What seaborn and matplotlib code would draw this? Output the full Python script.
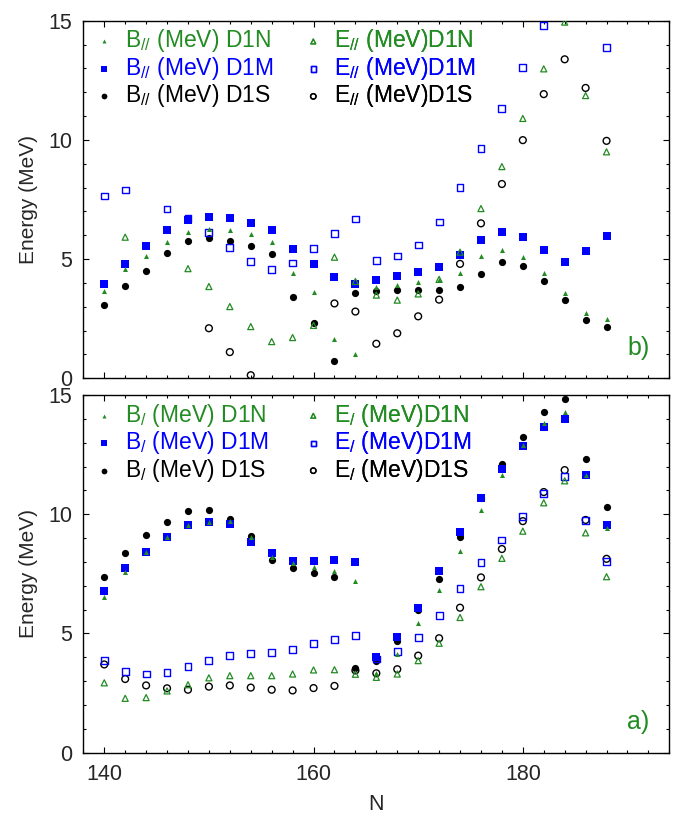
import numpy as np
import pandas as pd
import matplotlib
matplotlib.use("Agg")
import matplotlib.pyplot as plt
import seaborn as sns
from matplotlib.ticker import MultipleLocator

nan = np.nan
N = list(range(140, 189, 2))

# ---- panel b) : parallel ----
B_par_D1N = [3.66, 4.60, 5.15, 5.72, 6.15, 6.28, 6.24, 6.04, 5.72, 4.42, 3.62, 1.64, 1.02,
             3.85, 3.90, 4.03, 4.12, 4.41, 5.12, 5.40, 5.09, 4.43, 3.58, 2.76, 2.49]
B_par_D1M = [3.94, 4.78, 5.55, 6.21, 6.63, 6.76, 6.71, 6.50, 6.21, 5.41, 4.78, 4.24, 3.95,
             4.12, 4.28, 4.46, 4.66, 5.16, 5.80, 6.13, 5.92, 5.38, 4.87, 5.34, 5.96]
B_par_D1S = [3.08, 3.87, 4.50, 5.24, 5.76, 5.89, 5.78, 5.55, 5.20, 3.41, 2.31, 0.71, 3.58,
             3.67, 3.69, 3.70, 3.70, 3.82, 4.36, 4.88, 4.71, 4.08, 3.29, 2.43, 2.15]
E_par_D1N = [nan, 5.92, nan, nan, 4.60, 3.85, 3.01, 2.17, 1.54, 1.71, 2.22, 5.08, 4.06,
             3.49, 3.28, 3.54, 4.15, 5.29, 7.12, 8.88, 10.90, 12.98, 14.94, 11.86, 9.50]
E_par_D1M = [7.65, 7.90, nan, 7.10, 6.69, 6.13, 5.50, 4.90, 4.57, 4.84, 5.43, 6.08, 6.68,
             4.95, 5.13, 5.59, 6.56, 8.01, 9.65, 11.31, 13.05, 14.81, nan, nan, 13.89]
E_par_D1S = [nan, nan, nan, nan, nan, 2.10, 1.10, 0.13, nan, nan, nan, 3.14, 2.80,
             1.45, 1.89, 2.60, 3.30, 4.80, 6.50, 8.15, 9.99, 11.92, 13.38, 12.18, 9.96]

# ---- panel a) : perpendicular ----
B_perp_D1N = [6.53, 7.56, 8.40, 9.06, 9.56, 9.69, 9.73, 9.03, 8.20, 7.95, 7.80, 7.60, 7.18,
              3.35, 4.14, 5.42, 6.82, 8.46, 10.19, 11.64, 12.89, 13.84, 14.30, 11.66, 9.41]
B_perp_D1M = [6.76, 7.73, 8.43, 9.04, 9.53, 9.67, 9.57, 8.82, 8.36, 8.05, 8.05, 8.06, 7.98,
              4.00, 4.84, 6.07, 7.60, 9.24, 10.66, 11.88, 12.86, 13.64, 13.98, 11.64, 9.53]
B_perp_D1S = [7.37, 8.39, 9.13, 9.66, 10.13, 10.19, 9.78, 9.07, 8.06, 7.73, 7.52, 7.38, 3.54,
              3.86, 4.70, 5.98, 7.30, 9.06, 10.66, 12.10, 13.24, 14.27, 14.83, 12.33, 10.31]
E_perp_D1N = [2.93, 2.28, 2.31, 2.59, 2.85, 3.14, 3.23, 3.23, 3.23, 3.30, 3.47, 3.48, 3.29,
              3.16, 3.30, 3.86, 4.59, 5.67, 6.96, 8.15, 9.29, 10.48, 11.40, 9.22, 7.38]
E_perp_D1M = [3.87, 3.42, 3.30, 3.37, 3.61, 3.87, 4.07, 4.15, 4.19, 4.33, 4.57, 4.74, 4.90,
              3.93, 4.24, 4.82, 5.74, 6.90, 7.97, 8.92, 9.90, 10.87, 11.59, 9.74, 8.02]
E_perp_D1S = [3.70, 3.09, 2.82, 2.70, 2.64, 2.77, 2.82, 2.73, 2.64, 2.61, 2.71, 2.80, 3.45,
              3.33, 3.50, 4.07, 4.80, 6.08, 7.35, 8.54, 9.71, 10.93, 11.85, 9.76, 8.13]

x_ticks = [140, 160, 180]
y_ticks = [0, 5, 10, 15]

GREEN = "#228b22"
BLUE = "#0000ff"
BLACK = "#000000"

sns.set_theme(style="ticks")
plt.rcParams['font.family'] = ['Liberation Sans', 'DejaVu Sans']
plt.rcParams['mathtext.fontset'] = 'custom'
plt.rcParams['mathtext.rm'] = 'Liberation Sans'
plt.rcParams['mathtext.it'] = 'Liberation Sans:italic'

fig = plt.figure(figsize=(6.78, 8.21), dpi=100)
ax_b = fig.add_axes([0.1229, 0.5392, 0.8643, 0.4356])
ax_a = fig.add_axes([0.1229, 0.0832, 0.8643, 0.4357])

# style per model / kind
style = {
    ("B", "D1N"): dict(color=GREEN, marker="^", filled=True, s=13, lw=0),
    ("B", "D1M"): dict(color=BLUE, marker="s", filled=True, s=30, lw=0),
    ("B", "D1S"): dict(color=BLACK, marker="o", filled=True, s=27, lw=0),
    ("E", "D1N"): dict(color=GREEN, marker="^", filled=False, s=19, lw=0.9),
    ("E", "D1M"): dict(color=BLUE, marker="s", filled=False, s=24, lw=1.0),
    ("E", "D1S"): dict(color=BLACK, marker="o", filled=False, s=24, lw=1.0),
}

panels = [
    (ax_b, "//", {("B", "D1N"): B_par_D1N, ("B", "D1M"): B_par_D1M, ("B", "D1S"): B_par_D1S,
                  ("E", "D1N"): E_par_D1N, ("E", "D1M"): E_par_D1M, ("E", "D1S"): E_par_D1S}, "b)"),
    (ax_a, "/", {("B", "D1N"): B_perp_D1N, ("B", "D1M"): B_perp_D1M, ("B", "D1S"): B_perp_D1S,
                 ("E", "D1N"): E_perp_D1N, ("E", "D1M"): E_perp_D1M, ("E", "D1S"): E_perp_D1S}, "a)"),
]

draw_order = [("B", "D1S"), ("E", "D1S"), ("B", "D1M"), ("E", "D1M"), ("B", "D1N"), ("E", "D1N")]
legend_order = [("B", "D1N"), ("B", "D1M"), ("B", "D1S"), ("E", "D1N"), ("E", "D1M"), ("E", "D1S")]

for ax, sub, data, tag in panels:
    handles = {}
    for key in draw_order:
        st = style[key]
        df = pd.DataFrame({"N": N, "E": data[key]}).dropna()
        kw = dict(color=st["color"], edgecolor=st["color"], linewidth=st["lw"])
        if not st["filled"]:
            kw["facecolor"] = "none"
        sns.scatterplot(data=df, x="N", y="E", ax=ax, marker=st["marker"], s=st["s"],
                        legend=False, zorder=3, **kw)
        handles[key] = ax.collections[-1]

    labels = {}
    for kind, model in legend_order:
        if kind == "B":
            labels[(kind, model)] = r"B$_{\mathit{%s}}$ (MeV) %s" % (sub, model)
        else:
            labels[(kind, model)] = r"E$_{\mathit{%s}}$ (MeV)%s" % (sub, model)

    for col, x0 in enumerate([0.0201, 0.3768]):
        keys = legend_order[col * 3:(col + 1) * 3]
        leg = ax.legend([handles[k] for k in keys], [labels[k] for k in keys],
                        loc="upper left", bbox_to_anchor=(x0, 0.981), bbox_transform=ax.transAxes,
                        frameon=False, fontsize=16.5, handlelength=0.8, handletextpad=0.52,
                        labelspacing=0.02, borderpad=0, borderaxespad=0, scatterpoints=1,
                        markerscale=0.8)
        for t, k in zip(leg.get_texts(), keys):
            t.set_color(style[k]["color"])
        ax.add_artist(leg)

    ax.text(0.928, 0.065, tag, transform=ax.transAxes, color=GREEN, fontsize=18, va="baseline", ha="left")

    ax.set_xlim(138, 194)
    ax.set_ylim(0, 15)
    ax.set_xticks(x_ticks)
    ax.set_yticks(y_ticks)
    ax.xaxis.set_minor_locator(MultipleLocator(2))
    ax.yaxis.set_minor_locator(MultipleLocator(1))
    ax.tick_params(which="both", direction="in", top=True, right=True, width=0.8, color="black",
                   labelsize=15.5, pad=8)
    ax.tick_params(which="major", length=4.5)
    ax.tick_params(which="minor", length=2.3)
    for sp in ax.spines.values():
        sp.set_linewidth(1.0)
        sp.set_color("black")
    ax.set_ylabel("Energy (MeV)", fontsize=15)
    ax.yaxis.set_label_coords(-0.077, 0.5)

ax_b.tick_params(labelbottom=False)
ax_b.set_xlabel("")
ax_a.set_xlabel("N", fontsize=15.5)
ax_a.xaxis.set_label_coords(0.5, -0.115)

fig.savefig("out.png", dpi=100)
